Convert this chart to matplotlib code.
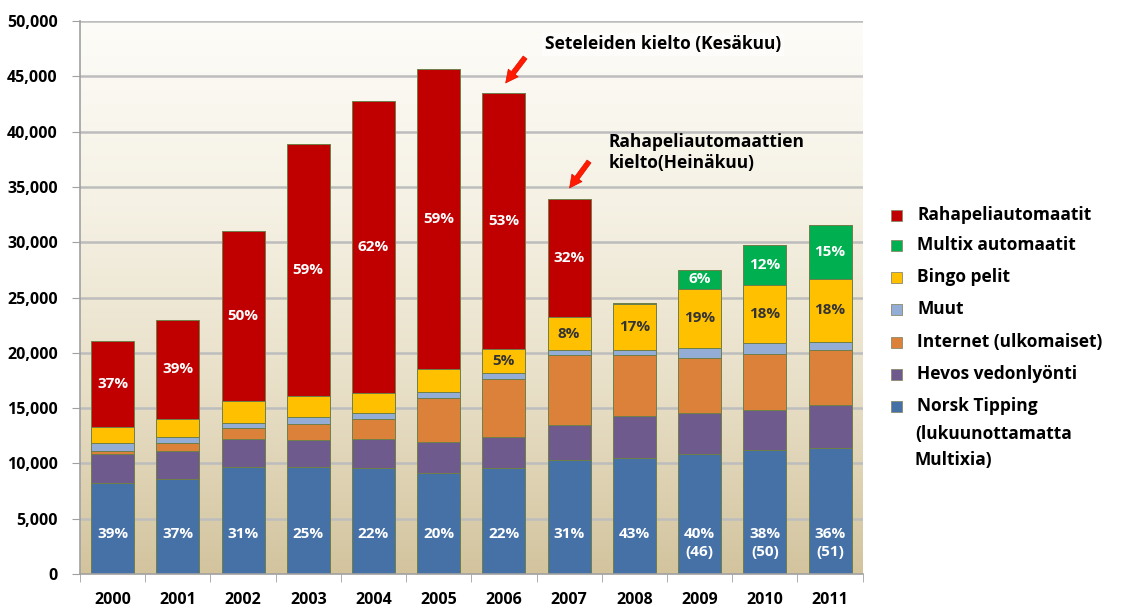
import numpy as np
import matplotlib
matplotlib.use("Agg")
import matplotlib.pyplot as plt
from matplotlib.colors import LinearSegmentedColormap
from matplotlib.patches import Rectangle

plt.rcParams['font.family'] = ['Open Sans', 'DejaVu Sans']
plt.rcParams['font.weight'] = 'bold'

# --- data ---
years = ['2000', '2001', '2002', '2003', '2004', '2005',
         '2006', '2007', '2008', '2009', '2010', '2011']
norsk = [8200, 8560, 9680, 9680, 9560, 9160, 9560, 10310, 10520, 10850, 11210, 11370]
hevos = [2620, 2590, 2500, 2440, 2620, 2750, 2800, 3190, 3760, 3680, 3620, 3910]
internet = [330, 670, 990, 1420, 1810, 4030, 5270, 6280, 5500, 4970, 5040, 4970]
muut = [670, 600, 510, 630, 600, 540, 570, 480, 470, 960, 990, 750]
bingo = [1450, 1630, 1990, 1930, 1810, 2030, 2120, 2960, 4160, 5310, 5270, 5670]
multix = [0, 0, 0, 0, 0, 0, 0, 0, 100, 1720, 3620, 4880]
raha = [7800, 8930, 15340, 22790, 26380, 27150, 23180, 10700, 0, 0, 0, 0]

norsk_lbl = ['39%', '37%', '31%', '25%', '22%', '20%', '22%', '31%', '43%',
             '40%\n(46)', '38%\n(50)', '36%\n(51)']
raha_lbl = ['37%', '39%', '50%', '59%', '62%', '59%', '53%', '32%', None, None, None, None]
bingo_lbl = [None, None, None, None, None, None, '5%', '8%', '17%', '19%', '18%', '18%']
multix_lbl = [None] * 9 + ['6%', '12%', '15%']

series = [
    ('Norsk Tipping', norsk, '#4571A6'),
    ('Hevos vedonlyönti', hevos, '#6F5A8E'),
    ('Internet (ulkomaiset)', internet, '#DB813A'),
    ('Muut', muut, '#94ADD6'),
    ('Bingo pelit', bingo, '#FFC000'),
    ('Multix automaatit', multix, '#00B050'),
    ('Rahapeliautomaatit', raha, '#C00000'),
]

# --- figure ---
W, H = 1123, 606
fig = plt.figure(figsize=(W / 100, H / 100), dpi=100)
ax = fig.add_axes([80 / W, 1 - 574 / H, (862.7 - 80) / W, (574 - 21) / H])

x = np.arange(len(years))
ax.set_xlim(-0.5, len(years) - 0.5)
ax.set_ylim(0, 50000)

# background gradient (cream to tan)
cmap = LinearSegmentedColormap.from_list('bg', ['#d3c49e', '#e8dfc7', '#f5f1e4', '#fdfcf8'])
grad = np.linspace(0, 1, 256)[:, None]
ax.imshow(grad, extent=[-0.5, len(years) - 0.5, 0, 50000], origin='lower',
          aspect='auto', cmap=cmap, zorder=0)

for yv in range(5000, 50001, 5000):
    ax.axhline(yv, color='#bdbdbd', lw=1.8, zorder=1)

bottom = np.zeros(len(years))
bars = {}
for name, vals, col in series:
    vals = np.array(vals, dtype=float)
    bars[name] = ax.bar(x, vals, 0.66, bottom=bottom, color=col,
                        edgecolor='#6f7f48', linewidth=0.7, zorder=2)
    bottom += vals

LBL = 11


def seg_labels(name, labels, color):
    for rect, lbl in zip(bars[name], labels):
        if lbl:
            ax.text(rect.get_x() + rect.get_width() / 2,
                    rect.get_y() + rect.get_height() / 2, lbl,
                    ha='center', va='center', color=color,
                    fontsize=LBL, fontweight='bold', zorder=3)


seg_labels('Rahapeliautomaatit', raha_lbl, 'white')
seg_labels('Bingo pelit', bingo_lbl, '#333333')
seg_labels('Multix automaatit', multix_lbl, 'white')
for xi, lbl in zip(x, norsk_lbl):
    ax.text(xi, 4250, lbl, ha='center', va='top', color='white',
            fontsize=LBL, fontweight='bold', linespacing=1.4, zorder=3)

# axes styling
ax.set_yticks(range(0, 50001, 5000))
ax.set_yticklabels([f'{v:,}' for v in range(0, 50001, 5000)])
ax.set_xticks(x)
ax.set_xticklabels(years)
ax.set_xticks(np.arange(-0.5, len(years)), minor=True)
ax.tick_params(axis='x', which='major', length=0, pad=13, labelsize=11.5)
ax.tick_params(axis='x', which='minor', length=6, color='#a0a0a0')
ax.tick_params(axis='y', length=6, color='#a0a0a0', pad=10, labelsize=11.5)
for lab in ax.get_xticklabels() + ax.get_yticklabels():
    lab.set_fontweight('bold')
for s in ['top', 'right']:
    ax.spines[s].set_visible(False)
for s in ['left', 'bottom']:
    ax.spines[s].set_color('#a0a0a0')
    ax.spines[s].set_linewidth(1.2)

# annotations
arrow = dict(arrowstyle='simple,head_length=0.9,head_width=0.9,tail_width=0.35',
             fc='#ff1a00', ec='#e01000', lw=0.5)
ax.annotate('', xy=(6.0, 44200), xytext=(6.35, 46900), arrowprops=arrow, zorder=4)
ax.text(6.63, 47900, 'Seteleiden kielto (Kesäkuu)', ha='left', va='center',
        fontsize=12.5, fontweight='bold', color='black', zorder=4,
        bbox=dict(boxstyle='square,pad=0.15', fc='white', ec='none', alpha=0.6))
ax.annotate('', xy=(6.98, 34700), xytext=(7.33, 37500), arrowprops=arrow, zorder=4)
ax.text(7.6, 39900, 'Rahapeliautomaattien\nkielto(Heinäkuu)', ha='left', va='top',
        fontsize=12.5, fontweight='bold', color='black', linespacing=1.25, zorder=4)

# legend drawn at right
FS_LEG = 12.5
leg_y = [215, 245, 277, 309, 342, 374, 406]
for (name, vals, col), yp in zip(reversed(series), leg_y):
    fig.patches.append(Rectangle((891 / W, 1 - (yp + 6) / H), 11 / W, 11 / H,
                                 transform=fig.transFigure, fc=col,
                                 ec='#8a8a6a', lw=0.6))
    fig.text(917 / W, 1 - yp / H, name, ha='left', va='center',
             fontsize=FS_LEG, fontweight='bold')
fig.text(915 / W, 1 - 434 / H, '(lukuunottamatta', ha='left', va='center',
         fontsize=FS_LEG, fontweight='bold')
fig.text(915 / W, 1 - 460 / H, 'Multixia)', ha='left', va='center',
         fontsize=FS_LEG, fontweight='bold')

fig.savefig('out.png', dpi=100)
